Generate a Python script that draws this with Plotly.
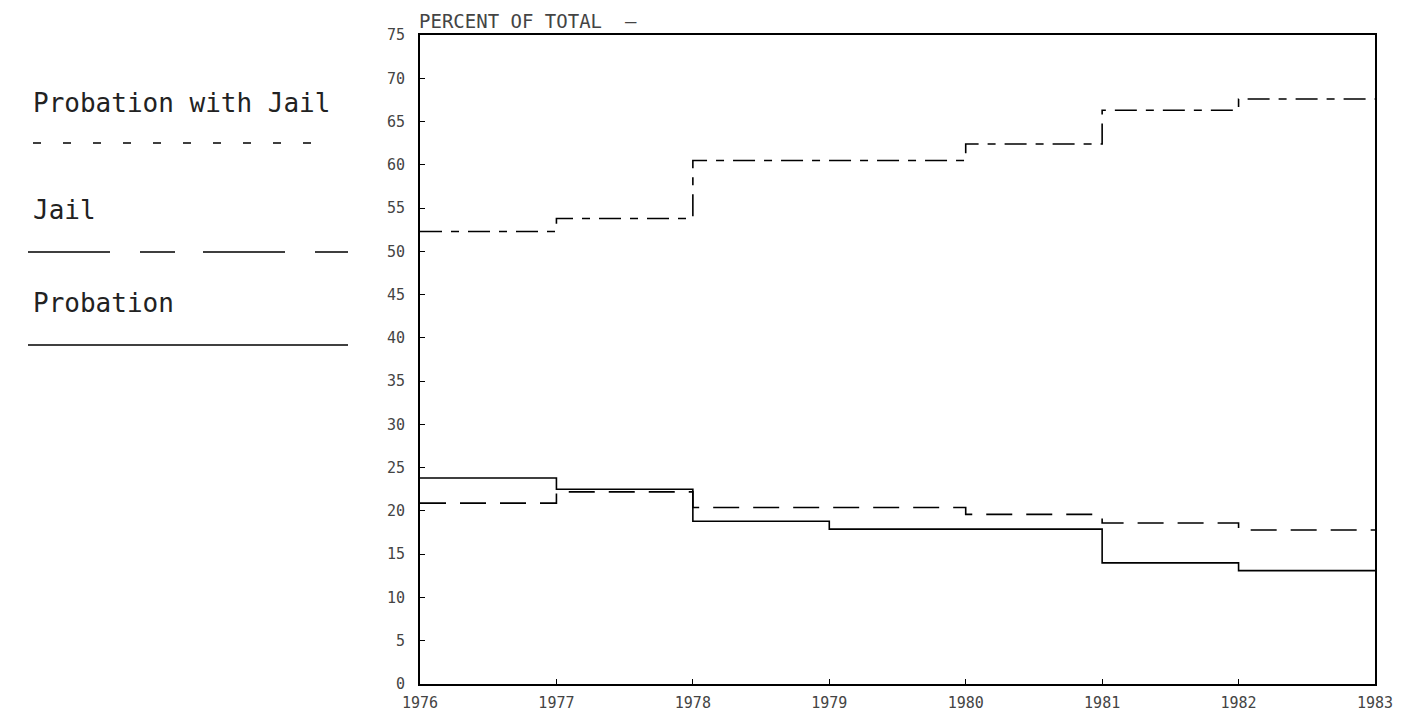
import plotly.graph_objects as go

years = [1976, 1977, 1978, 1979, 1980, 1981, 1982, 1983]
prob_with_jail = [52.3, 53.8, 60.5, 60.5, 62.4, 66.3, 67.6]
jail = [20.9, 22.2, 20.4, 20.4, 19.6, 18.6, 17.8]
probation = [23.8, 22.5, 18.8, 17.9, 17.9, 14.0, 13.1]
y_ticks = list(range(0, 80, 5))
series_names = ["Probation with Jail", "Jail", "Probation"]

W, H = 1415, 721
OFF = 8  # default page body margin
L, R, T, B = 420, 1375, 35, 684  # target plot box in screenshot pixels

def ext(v):
    return v + [v[-1]]

fig = go.Figure()
fig.add_trace(go.Scatter(x=years, y=ext(prob_with_jail), mode="lines", line_shape="hv",
                         line=dict(color="black", width=1.6, dash="22px,9px,8px,9px"),
                         name=series_names[0], showlegend=False))
fig.add_trace(go.Scatter(x=years, y=ext(jail), mode="lines", line_shape="hv",
                         line=dict(color="black", width=1.6, dash="26px,14px"),
                         name=series_names[1], showlegend=False))
fig.add_trace(go.Scatter(x=years, y=ext(probation), mode="lines", line_shape="hv",
                         line=dict(color="black", width=1.6),
                         name=series_names[2], showlegend=False))

def px_x(p):
    return (p - L) / (R - L)

def px_y(p):
    return (B - p) / (B - T)

font_mono = "DejaVu Sans Mono"
shapes = []
annotations = []
legend_specs = [
    (series_names[0], 103, 143, 33, 330, "8px,22px"),
    (series_names[1], 210, 252, 28, 348, "82px,30px,35px,28px"),
    (series_names[2], 303, 345, 28, 348, "solid"),
]
for name, ty, ly, x0, x1, dash in legend_specs:
    annotations.append(dict(text=name, xref="paper", yref="paper", x=px_x(31), y=px_y(ty),
                            xanchor="left", yanchor="middle", showarrow=False,
                            font=dict(family=font_mono, size=26, color="#222")))
    shapes.append(dict(type="line", xref="paper", yref="paper",
                       x0=px_x(x0), x1=px_x(x1), y0=px_y(ly), y1=px_y(ly),
                       line=dict(color="black", width=1.6, dash=dash)))

annotations.append(dict(text="PERCENT OF TOTAL  \u2013", xref="paper", yref="paper",
                        x=px_x(417), y=px_y(8), xanchor="left", yanchor="top",
                        showarrow=False,
                        font=dict(family=font_mono, size=19, color="#444")))

fig.update_layout(
    width=W, height=H,
    margin=dict(l=L - OFF, r=W - (R - OFF), t=T - OFF, b=H - (B - OFF)),
    paper_bgcolor="white", plot_bgcolor="white",
    shapes=shapes, annotations=annotations,
    showlegend=False,
    xaxis=dict(range=[1976, 1983], tickvals=years, ticktext=[str(y) for y in years],
               showgrid=False, zeroline=False, showline=True, linecolor="black",
               linewidth=2, mirror=True, ticks="inside", ticklen=5, tickcolor="black",
               ticklabelstandoff=4,
               tickfont=dict(family=font_mono, size=15, color="#444")),
    yaxis=dict(range=[0, 75], tickvals=y_ticks, showgrid=False, zeroline=False,
               showline=True, linecolor="black", linewidth=2, mirror=True,
               ticks="inside", ticklen=5, tickcolor="black",
               ticklabelstandoff=10,
               tickfont=dict(family=font_mono, size=15, color="#444")),
)

fig.write_html("out.html")
